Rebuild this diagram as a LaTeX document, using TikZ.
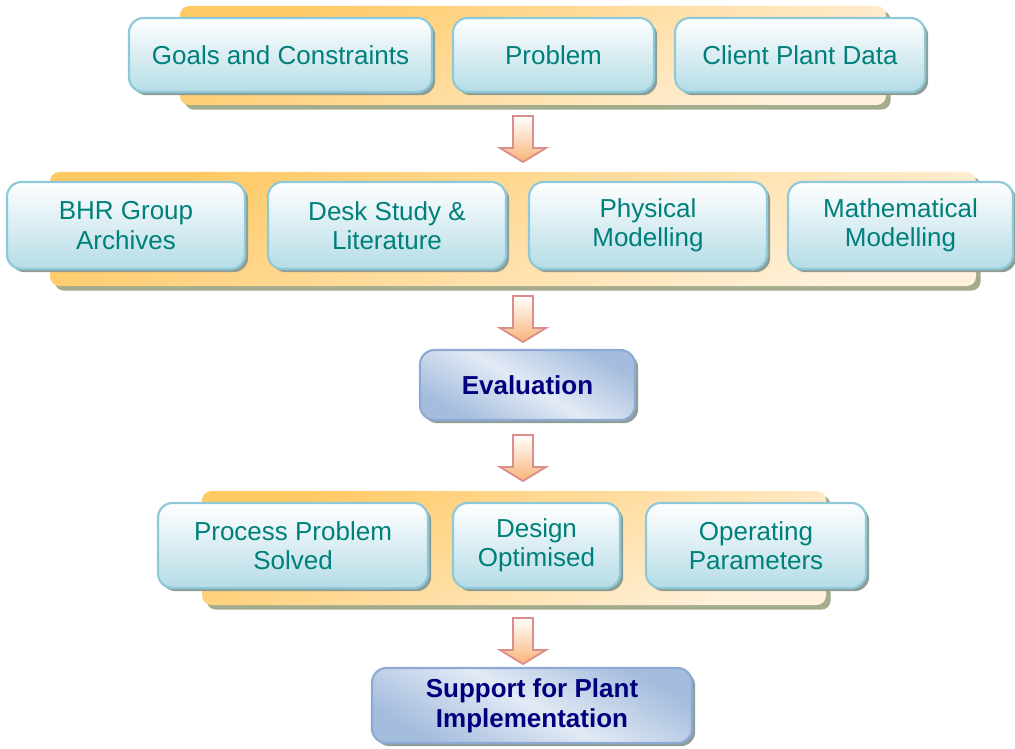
\documentclass[tikz,border=0pt]{standalone}
\usepackage{fontspec}
\setmainfont{Liberation Sans}
\usetikzlibrary{shadows}
\definecolor{teal}{HTML}{00807A}
\definecolor{navy}{HTML}{00007F}
\definecolor{boxborder}{HTML}{8DC9D9}
\definecolor{boxbottom}{HTML}{B5DCE6}
\definecolor{boxshadow}{HTML}{8E9E94}
\definecolor{bandtop}{HTML}{FFC964}
\definecolor{bandbottom}{HTML}{FFF1DC}
\definecolor{bandshadow}{HTML}{A4AC8E}
\definecolor{evalborder}{HTML}{8EAAD4}
\definecolor{evallight}{HTML}{E2EAF5}
\definecolor{evaldark}{HTML}{A4BCDD}
\definecolor{arrborder}{HTML}{DC8E8C}
\definecolor{arrbottom}{HTML}{F8B478}
\tikzset{
  band/.style={rounded corners=7pt, top color=bandtop, bottom color=bandbottom, shading angle=25,
    drop shadow={shadow xshift=3.5pt, shadow yshift=-3.5pt, fill=bandshadow, opacity=1}},
  bluebox/.style={rounded corners=11pt, draw=boxborder, line width=1.6pt,
    top color=white, bottom color=boxbottom,
    drop shadow={shadow xshift=2.4pt, shadow yshift=-2.4pt, fill=boxshadow, opacity=1},
    text=teal, font=\fontsize{19.5}{22}\selectfont, align=center},
  evalbox/.style={rounded corners=11pt, draw=evalborder, line width=1.6pt,
    left color=evaldark, right color=evaldark, middle color=evallight, shading angle=-30,
    drop shadow={shadow xshift=2.4pt, shadow yshift=-2.4pt, fill=boxshadow, opacity=1},
    text=navy, font=\fontsize{19.5}{22.5}\selectfont\bfseries, align=center},
  blockarrow/.style={draw=arrborder, line width=1.4pt, top color=white, bottom color=arrbottom, line join=miter},
  downarr/.pic={\draw[blockarrow] (-10,0) -- (10,0) -- (10,32) -- (23,32) -- (0,46) -- (-23,32) -- (-10,32) -- cycle;}
}
\begin{document}
\begin{tikzpicture}[x=0.75pt,y=-0.75pt]
\useasboundingbox (0,0) rectangle (1015,749);
% row 1
\node[band, minimum width=529.5pt, minimum height=74.25pt] (band1) at (533,55.5) {};
\node[bluebox, minimum width=227.25pt, minimum height=55.5pt] (goals) at (280.5,55) {Goals and Constraints};
\node[bluebox, minimum width=150.75pt, minimum height=55.5pt] (problem) at (553.5,55) {Problem};
\node[bluebox, minimum width=187.5pt, minimum height=55.5pt] (client) at (800,55) {Client Plant Data};
\pic at (523,116) {downarr};
% row 2
\node[band, minimum width=694.5pt, minimum height=85.5pt] (band2) at (513,229) {};
\node[bluebox, minimum width=178.5pt, minimum height=65.25pt] (bhr) at (126,225.5) {BHR Group\\Archives};
\node[bluebox, minimum width=178.5pt, minimum height=65.25pt] (desk) at (387,225.5) {Desk Study \&\\Literature};
\node[bluebox, minimum width=178.5pt, minimum height=65.25pt] (phys) at (648,225.5) {Physical\\Modelling};
\node[bluebox, minimum width=168.75pt, minimum height=65.25pt] (math) at (900.5,225.5) {Mathematical\\Modelling};
\pic at (523,296) {downarr};
% evaluation
\node[evalbox, minimum width=161.25pt, minimum height=52.5pt] (eval) at (527.5,385) {Evaluation};
\pic at (523,435) {downarr};
% row 3
\node[band, minimum width=468pt, minimum height=85.5pt] (band3) at (514,548) {};
\node[bluebox, minimum width=202.5pt, minimum height=63.75pt] (process) at (293,545.5) {Process Problem\\Solved};
\node[bluebox, minimum width=125.25pt, minimum height=63.75pt] (design) at (536.5,545.5) {Design\\Optimised};
\node[bluebox, minimum width=165pt, minimum height=63.75pt] (oper) at (756,545.5) {Operating\\Parameters};
\pic at (523,618) {downarr};
% support
\node[evalbox, minimum width=240pt, minimum height=56.25pt] (support) at (532,705.5) {Support for Plant\\Implementation};
\end{tikzpicture}
\end{document}
